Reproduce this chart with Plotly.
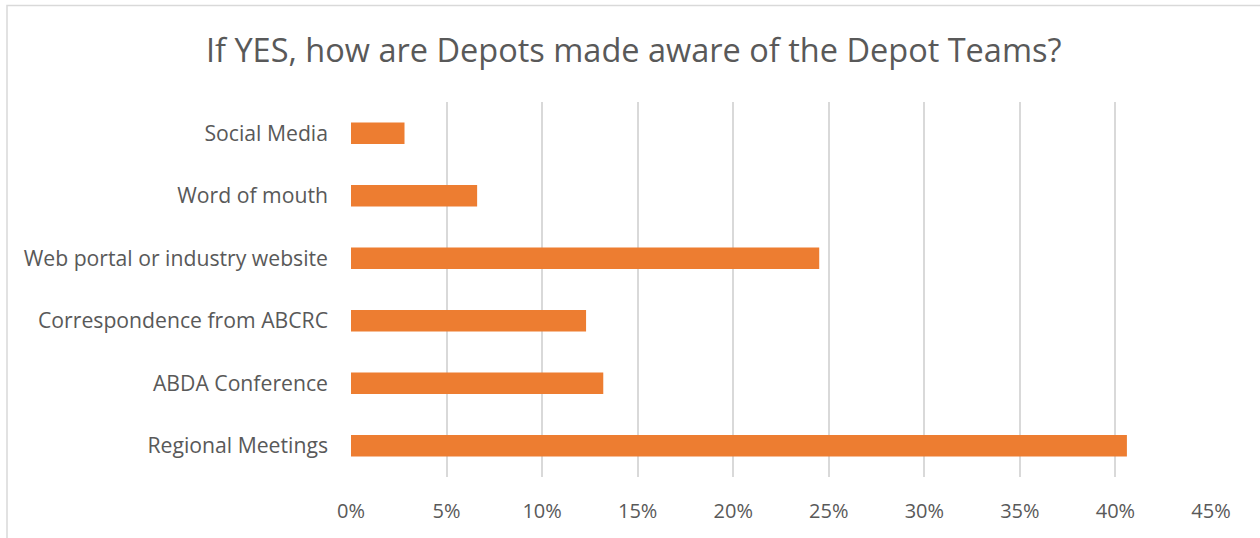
import plotly.graph_objects as go

# Survey responses: how depots learn about the Depot Teams (share of respondents, %)
categories = [
    "Regional Meetings",
    "ABDA Conference",
    "Correspondence from ABCRC",
    "Web portal or industry website",
    "Word of mouth",
    "Social Media",
]
shares = [40.6, 13.2, 12.3, 24.5, 6.6, 2.8]

title_text = "If YES, how are Depots made aware of the Depot Teams?"
x_ticks = [0, 5, 10, 15, 20, 25, 30, 35, 40, 45]

TEXT = "#595959"
GRID = "#d9d9d9"
BAR = "#ED7D31"
FONT = "Open Sans, Segoe UI, sans-serif"

fig = go.Figure(
    go.Bar(
        x=shares,
        y=categories,
        orientation="h",
        marker=dict(color=BAR, line=dict(width=0)),
        hovertemplate="%{y}: %{x}%<extra></extra>",
    )
)

fig.update_layout(
    width=1260,
    height=538,
    margin=dict(l=351, r=49, t=102, b=61),
    paper_bgcolor="white",
    plot_bgcolor="white",
    bargap=0.655,
    showlegend=False,
    font=dict(family=FONT, color=TEXT, size=20),
    title=dict(
        text=title_text,
        x=0.503,
        xanchor="center",
        y=0.905,
        yanchor="middle",
        font=dict(family=FONT, size=32.5, color=TEXT),
    ),
    xaxis=dict(
        range=[0, 45],
        tickmode="array",
        tickvals=x_ticks,
        ticktext=[f"{v}%" for v in x_ticks],
        showgrid=True,
        gridcolor=GRID,
        gridwidth=1.5,
        zeroline=False,
        showline=False,
        ticks="",
        ticklabelstandoff=20,
        tickfont=dict(size=20, color=TEXT),
        fixedrange=True,
    ),
    yaxis=dict(
        categoryorder="array",
        categoryarray=categories,
        showgrid=False,
        zeroline=False,
        showline=False,
        ticks="",
        ticklabelstandoff=22,
        tickfont=dict(size=21.2, color=TEXT),
        fixedrange=True,
    ),
    shapes=[
        # chart frame (runs past the right and bottom edges of the view)
        dict(
            type="rect",
            xref="paper",
            yref="paper",
            x0=(7 - 351) / 860,
            x1=(1270 - 351) / 860,
            y0=(477 - 550) / 375,
            y1=(477 - 5.5) / 375,
            line=dict(color=GRID, width=1.5),
            fillcolor="rgba(0,0,0,0)",
            layer="below",
        )
    ],
)

fig.write_html("out.html", config={"displayModeBar": False})
